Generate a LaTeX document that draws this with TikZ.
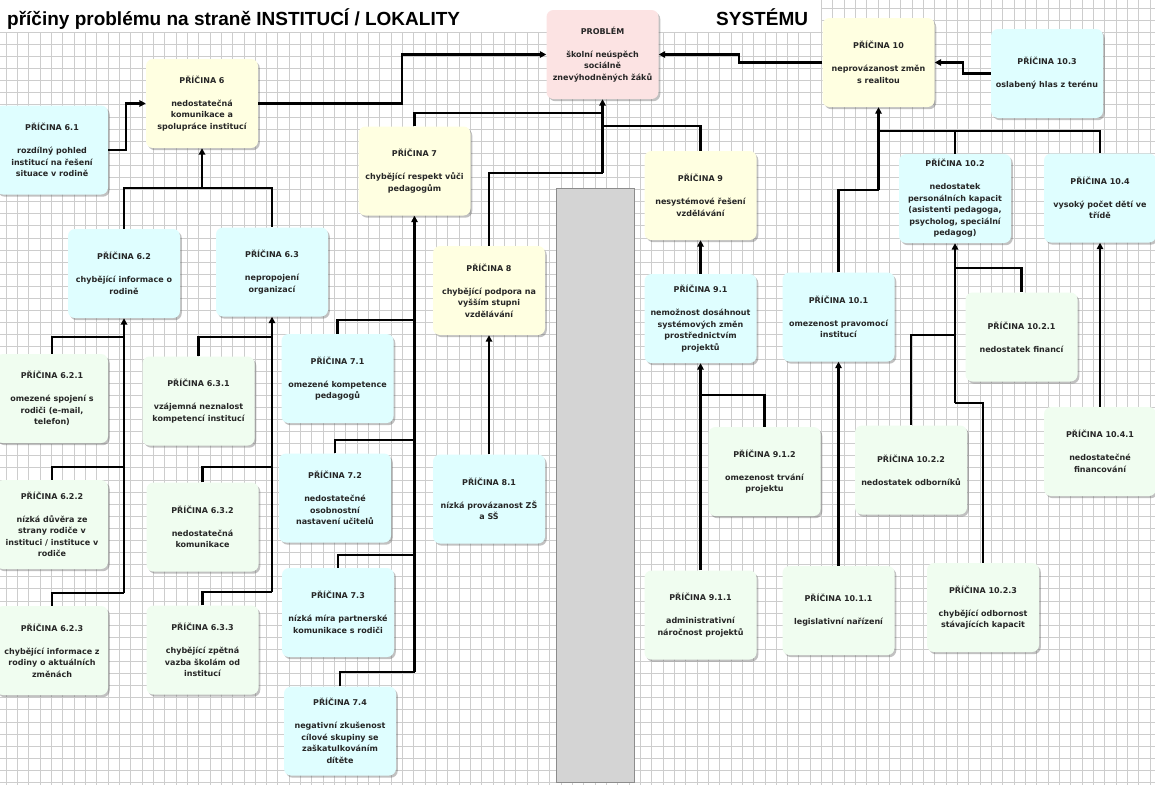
\documentclass[tikz,border=0pt]{standalone}
\usepackage{fontspec}
\newfontfamily\boxfont{DejaVu Sans}
\newfontfamily\titlefont{Liberation Sans}
\usetikzlibrary{arrows.meta,shadows}
\definecolor{cpink}{HTML}{FCE3E3}
\definecolor{cyellow}{HTML}{FFFFE1}
\definecolor{ccyan}{HTML}{DFFEFF}
\definecolor{cgreen}{HTML}{F0FDF0}
\definecolor{cgrid}{HTML}{CDCDCD}
\begin{document}
\begin{tikzpicture}[x=1pt,y=-1pt,
  box/.style={rounded corners=7pt, minimum width=112pt, minimum height=89pt,
    inner sep=2pt, align=center, text=black!85,
    font={\boxfont\bfseries\fontsize{8}{11.5}\selectfont},
    drop shadow={shadow xshift=1.8pt, shadow yshift=-2.2pt, opacity=0.4, fill=black!60}},
  pinkbox/.style={box, fill=cpink},
  yelbox/.style={box, fill=cyellow},
  cyanbox/.style={box, fill=ccyan},
  greenbox/.style={box, fill=cgreen},
  conn/.style={line width=2.1pt, black},
  arr/.style={conn, -{Triangle[length=6.5pt,width=6.5pt]}},
  gridline/.style={draw=cgrid, line width=0.7pt},
  titletext/.style={font={\titlefont\bfseries\fontsize{19}{22}\selectfont}, inner sep=0pt, anchor=base west}
]
\useasboundingbox (0,0) rectangle (1155,785);
\fill[white] (0,0) rectangle (1155,785);
% grid
\foreach \i in {0,...,101} {
  \pgfmathsetmacro\gx{6+\i*11.326}
  \draw[gridline] (\gx,32.2) -- (\gx,785);
}
\foreach \i in {72,...,101} {
  \pgfmathsetmacro\gx{6+\i*11.326}
  \draw[gridline] (\gx,0) -- (\gx,32.2);
}
\foreach \j in {0,...,62} {
  \pgfmathsetmacro\gy{32.2+\j*12.1}
  \draw[gridline] (0,\gy) -- (1155,\gy);
}
\foreach \gy in {8.0,20.1} {
  \draw[gridline] (821.5,\gy) -- (1155,\gy);
}

% titles
\node[titletext] (title1) at (7,25.5) {příčiny problému na straně INSTITUCÍ / LOKALITY};
\node[titletext] (title2) at (716,25.5) {SYSTÉMU};

% gray bar
\draw[draw=black!45, fill=black!17, line width=0.8pt] (556,188) rectangle (634,782);

% nodes
\node[pinkbox] (prob) at (602.5,54.5) {PROBLÉM\\[11.5pt]školní neúspěch\\sociálně\\znevýhodněných žáků};

\node[yelbox] (p6) at (202,103.5) {PŘÍČINA 6\\[11.5pt]nedostatečná\\komunikace a\\spolupráce institucí};
\node[cyanbox] (p61) at (52,150) {PŘÍČINA 6.1\\[11.5pt]rozdílný pohled\\institucí na řešení\\situace v rodině};
\node[cyanbox] (p62) at (124,273.5) {PŘÍČINA 6.2\\[11.5pt]chybějící informace o\\rodině};
\node[cyanbox] (p63) at (272,272) {PŘÍČINA 6.3\\[11.5pt]nepropojení\\organizací};
\node[greenbox] (p621) at (52,398.5) {PŘÍČINA 6.2.1\\[11.5pt]omezené spojení s\\rodiči (e-mail,\\telefon)};
\node[greenbox] (p622) at (52,524.5) {PŘÍČINA 6.2.2\\[11.5pt]nízká důvěra ze\\strany rodiče v\\instituci / instituce v\\rodiče};
\node[greenbox] (p623) at (52,650.5) {PŘÍČINA 6.2.3\\[11.5pt]chybějící informace z\\rodiny o aktuálních\\změnách};
\node[greenbox] (p631) at (198.5,401) {PŘÍČINA 6.3.1\\[11.5pt]vzájemná neznalost\\kompetencí institucí};
\node[greenbox] (p632) at (202.5,527) {PŘÍČINA 6.3.2\\[11.5pt]nedostatečná\\komunikace};
\node[greenbox] (p633) at (202.5,650) {PŘÍČINA 6.3.3\\[11.5pt]chybějící zpětná\\vazba školám od\\institucí};

\node[yelbox] (p7) at (414.5,171) {PŘÍČINA 7\\[11.5pt]chybějící respekt vůči\\pedagogům};
\node[cyanbox] (p71) at (337.5,378.5) {PŘÍČINA 7.1\\[11.5pt]omezené kompetence\\pedagogů};
\node[cyanbox] (p72) at (335,498) {PŘÍČINA 7.2\\[11.5pt]nedostatečné\\osobnostní\\nastavení učitelů};
\node[cyanbox] (p73) at (338,612.5) {PŘÍČINA 7.3\\[11.5pt]nízká míra partnerské\\komunikace s rodiči};
\node[cyanbox] (p74) at (340,731) {PŘÍČINA 7.4\\[11.5pt]negativní zkušenost\\cílové skupiny se\\zaškatulkováním\\dítěte};

\node[yelbox] (p8) at (489,290.5) {PŘÍČINA 8\\[11.5pt]chybějící podpora na\\vyšším stupni\\vzdělávání};
\node[cyanbox] (p81) at (489,499) {PŘÍČINA 8.1\\[11.5pt]nízká provázanost ZŠ\\a SŠ};

\node[yelbox] (p9) at (700.5,195.5) {PŘÍČINA 9\\[11.5pt]nesystémové řešení\\vzdělávání};
\node[cyanbox] (p91) at (700.5,318.5) {PŘÍČINA 9.1\\[11.5pt]nemožnost dosáhnout\\systémových změn\\prostřednictvím\\projektů};
\node[greenbox] (p912) at (764.5,471.5) {PŘÍČINA 9.1.2\\[11.5pt]omezenost trvání\\projektu};
\node[greenbox] (p911) at (700.5,615) {PŘÍČINA 9.1.1\\[11.5pt]administrativní\\náročnost projektů};

\node[yelbox] (p10) at (878.5,62.5) {PŘÍČINA 10\\[11.5pt]neprovázanost změn\\s realitou};
\node[cyanbox] (p103) at (1047,73.5) {PŘÍČINA 10.3\\[11.5pt]oslabený hlas z terénu};
\node[cyanbox] (p101) at (838.5,317) {PŘÍČINA 10.1\\[11.5pt]omezenost pravomocí\\institucí};
\node[cyanbox] (p102) at (955,198.5) {PŘÍČINA 10.2\\[11.5pt]nedostatek\\personálních kapacit\\(asistenti pedagoga,\\psycholog, speciální\\pedagog)};
\node[cyanbox] (p104) at (1100,198) {PŘÍČINA 10.4\\[11.5pt]vysoký počet dětí ve\\třídě};
\node[greenbox] (p1021) at (1021.5,337) {PŘÍČINA 10.2.1\\[11.5pt]nedostatek financí};
\node[greenbox] (p1022) at (911,470) {PŘÍČINA 10.2.2\\[11.5pt]nedostatek odborníků};
\node[greenbox] (p1023) at (983,607.5) {PŘÍČINA 10.2.3\\[11.5pt]chybějící odbornost\\stávajících kapacit};
\node[greenbox] (p1011) at (838.5,610.5) {PŘÍČINA 10.1.1\\[11.5pt]legislativní nařízení};
\node[greenbox] (p1041) at (1100,451.5) {PŘÍČINA 10.4.1\\[11.5pt]nedostatečné\\financování};

% junction coordinates
\coordinate (j6) at (202,188);
\coordinate (t62) at (124,593);
\coordinate (b621) at (124,337);
\coordinate (b622) at (124,467);
\coordinate (t63) at (272,592);
\coordinate (b631) at (272,337);
\coordinate (b632) at (272,467);
\coordinate (t7) at (414.5,672);
\coordinate (b71) at (414.5,320);
\coordinate (b72) at (414.5,440);
\coordinate (b73) at (414.5,555);
\coordinate (jp) at (602.5,173);
\coordinate (bp7) at (602.5,113);
\coordinate (bp9) at (602.5,126);
\coordinate (j10) at (878.5,190);
\coordinate (b10) at (878.5,131);
\coordinate (t102) at (955,403);
\coordinate (b1021) at (955,268);
\coordinate (b1022) at (955,335);
\coordinate (b912) at (700.5,395);

% connectors: group 6
\draw[arr] (p61.east) -- ++(18,0) |- (p6.west);
\draw[arr] (p6.east) -- ++(144,0) |- (prob.west);
\draw[conn] (p62.north) |- (j6) -| (p63.north);
\draw[arr] (j6) -- (p6.south);
\draw[arr] (t62) -- (p62.south);
\draw[conn] (p621.north) |- (b621);
\draw[conn] (p622.north) |- (b622);
\draw[conn] (p623.north) |- (t62);
\draw[arr] (t63) -- (p63.south);
\draw[conn] (p631.north) |- (b631);
\draw[conn] (p632.north) |- (b632);
\draw[conn] (p633.north) |- (t63);

% group 7
\draw[arr] (t7) -- (p7.south);
\draw[conn] (p71.north) |- (b71);
\draw[conn] (p72.north) |- (b72);
\draw[conn] (p73.north) |- (b73);
\draw[conn] (p74.north) |- (t7);

% into problem from below
\draw[arr] (jp) -- (prob.south);
\draw[conn] (p7.north) |- (bp7);
\draw[conn] (p8.north) |- (jp);
\draw[conn] (p9.north) |- (bp9);
\draw[arr] (p81.north) -- (p8.south);

% group 9
\draw[arr] (p91.north) -- (p9.south);
\draw[arr] (p911.north) -- (p91.south);
\draw[conn] (b912) -| (p912.north);

% group 10
\draw[arr] (p10.west) -- ++(-83,0) |- (prob.east);
\draw[arr] (p103.west) -- ++(-28,0) |- (p10.east);
\draw[arr] (j10) -- (p10.south);
\draw[conn] (p101.north) |- (j10);
\draw[conn] (b10) -| (p102.north);
\draw[conn] (b10) -| (p104.north);
\draw[arr] (t102) -- (p102.south);
\draw[conn] (b1021) -| (p1021.north);
\draw[conn] (b1022) -| (p1022.north);
\draw[conn] (t102) -| (p1023.north);
\draw[arr] (p1041.north) -- (p104.south);
\draw[arr] (p1011.north) -- (p101.south);
\end{tikzpicture}
\end{document}
